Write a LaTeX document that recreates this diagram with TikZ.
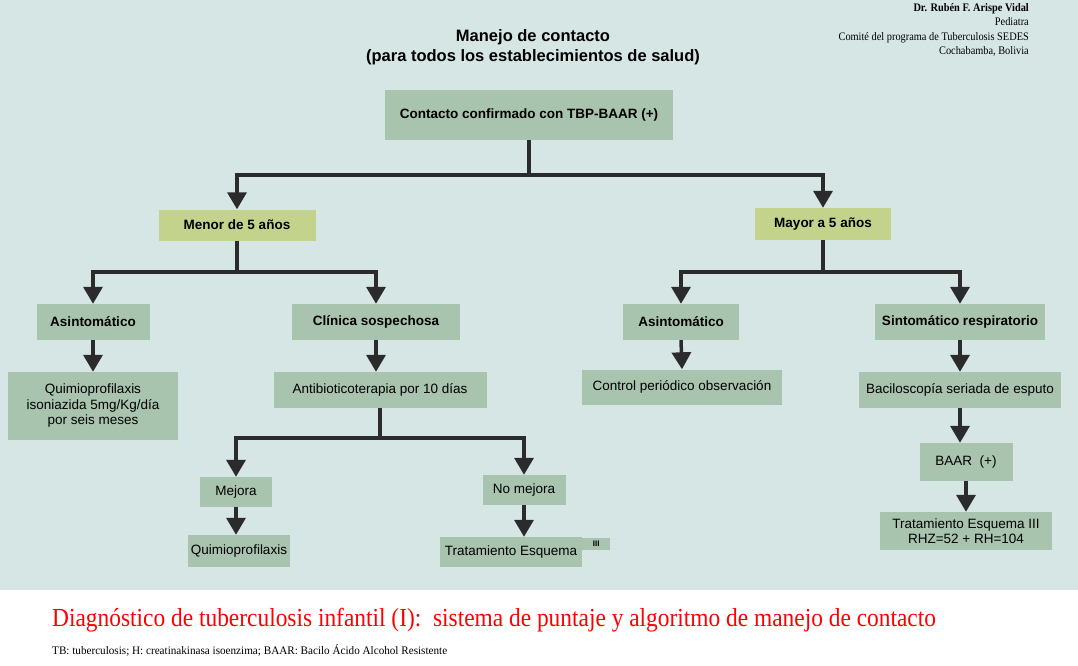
\documentclass[tikz,border=0pt]{standalone}
\usepackage{fontspec}
\setmainfont{Liberation Serif}
\setsansfont{Liberation Sans}
\usetikzlibrary{arrows.meta}
\definecolor{bg}{HTML}{D6E6E5}
\definecolor{boxg}{HTML}{A8C3AE}
\definecolor{boxy}{HTML}{C3D38C}
\definecolor{ln}{HTML}{2B2B2B}
\begin{document}
\begin{tikzpicture}[x=1pt,y=-1pt,
  box/.style={fill=boxg,draw=none,inner sep=0pt,font=\sffamily\bfseries\fontsize{13.5}{15.5}\selectfont,align=center},
  pbox/.style={fill=boxg,draw=none,inner sep=0pt,font=\sffamily\fontsize{13.5}{15.5}\selectfont,align=center},
  ybox/.style={box,fill=boxy},
  con/.style={draw=ln,line width=3.5pt},
  arr/.style={con,-{Triangle[width=19pt,length=17pt]}},
  ]
\useasboundingbox (0,0) rectangle (1078,666);
\fill[bg] (0,0) rectangle (1078,590);
\node[font=\sffamily\bfseries\fontsize{16.5}{20}\selectfont,align=center] (title) at (533,47) {Manejo de contacto\\(para todos los establecimientos de salud)};
\node[anchor=north east,align=right,font=\fontsize{11.5}{14.5}\selectfont,inner sep=0pt] (auth) at (1029,3) {\addfontfeature{FakeStretch=0.9}\textbf{Dr. Rubén F. Arispe Vidal}\\\addfontfeature{FakeStretch=0.9}Pediatra\\\addfontfeature{FakeStretch=0.9}Comité del programa de Tuberculosis SEDES\\\addfontfeature{FakeStretch=0.9}Cochabamba, Bolivia};

\node[box,minimum width=288,minimum height=50] (c) at (529,115) {Contacto confirmado con TBP-BAAR (+)};
\node[ybox,minimum width=157,minimum height=31] (men) at (237,225) {Menor de 5 años};
\node[ybox,minimum width=136,minimum height=32] (may) at (823,224) {Mayor a 5 años};
\node[box,minimum width=113,minimum height=36] (a1) at (93,322) {Asintomático};
\node[box,minimum width=168,minimum height=36] (cl) at (376,322) {Clínica sospechosa};
\node[box,minimum width=116,minimum height=36] (a2) at (681,322) {Asintomático};
\node[box,minimum width=170,minimum height=36] (si) at (960,322) {Sintomático respiratorio};
\node[pbox,minimum width=170,minimum height=68] (q1) at (93,406) {Quimioprofilaxis\\isoniazida 5mg/Kg/día\\por seis meses};
\node[pbox,minimum width=213,minimum height=36] (ab) at (380,390) {Antibioticoterapia por 10 días};
\node[pbox,minimum width=200,minimum height=35] (co) at (682,387) {Control periódico observación};
\node[pbox,minimum width=202,minimum height=36] (ba) at (960,390) {Baciloscopía seriada de esputo};
\node[pbox,minimum width=93,minimum height=38] (bp) at (966,462) {BAAR\ \ (+)};
\node[pbox,minimum width=172,minimum height=38] (t2) at (966,531) {Tratamiento Esquema III\\RHZ=52 + RH=104};
\node[pbox,minimum width=72,minimum height=30] (me) at (236,492) {Mejora};
\node[pbox,minimum width=83,minimum height=30] (nm) at (524,490) {No mejora};
\node[pbox,minimum width=102,minimum height=32] (q2) at (239,551) {Quimioprofilaxis};
\node[pbox,minimum width=142,minimum height=30] (t1) at (511,552) {Tratamiento Esquema};
\node[fill=boxg,minimum width=28,minimum height=12,inner sep=0pt,font=\sffamily\bfseries\fontsize{8}{9}\selectfont,anchor=north west] (t1b) at (582,538) {III};

\coordinate (j0) at (529,175);
\coordinate (j0l) at (237,175);
\coordinate (j0r) at (823,175);
\draw[con] (c.south) -- (j0);
\draw[arr] (j0) -- (j0l) -- (men.north);
\draw[arr] (j0) -- (j0r) -- (may.north);
\coordinate (j1) at (237,272); \coordinate (j1l) at (93,272); \coordinate (j1r) at (376,272);
\draw[con] (men.south) -- (j1);
\draw[arr] (j1) -- (j1l) -- (a1.north);
\draw[arr] (j1) -- (j1r) -- (cl.north);
\coordinate (j2) at (823,272); \coordinate (j2l) at (681,272); \coordinate (j2r) at (960,272);
\draw[con] (may.south) -- (j2);
\draw[arr] (j2) -- (j2l) -- (a2.north);
\draw[arr] (j2) -- (j2r) -- (si.north);
\coordinate (j3) at (380,438); \coordinate (j3l) at (236,438); \coordinate (j3r) at (524,438);
\draw[con] (ab.south) -- (j3);
\draw[arr] (j3) -- (j3l) -- (me.north);
\draw[arr] (j3) -- (j3r) -- (nm.north);
\draw[arr] (a1.south) -- (q1.north);
\draw[arr] (cl.south) -- (cl.south|-ab.north);
\draw[arr] (a2.south) -- (co.north);
\draw[arr] (si.south) -- (ba.north);
\draw[arr] (ba.south) -- (ba.south|-bp.north);
\draw[arr] (bp.south) -- (t2.north);
\draw[arr] (me.south) -- (me.south|-q2.north);
\draw[arr] (nm.south) -- (nm.south|-t1.north);

\node[anchor=west,text=red,inner sep=0pt,font=\fontsize{26}{30}\selectfont] (cap) at (52,620) {\addfontfeature{FakeStretch=0.9}Diagnóstico de tuberculosis infantil (I):\ \ sistema de puntaje y algoritmo de manejo de contacto};
\node[anchor=west,inner sep=0pt,font=\fontsize{11.5}{13}\selectfont] (fn) at (52,650) {\addfontfeature{FakeStretch=0.97}TB: tuberculosis; H: creatinakinasa isoenzima; BAAR: Bacilo Ácido Alcohol Resistente};
\end{tikzpicture}
\end{document}
